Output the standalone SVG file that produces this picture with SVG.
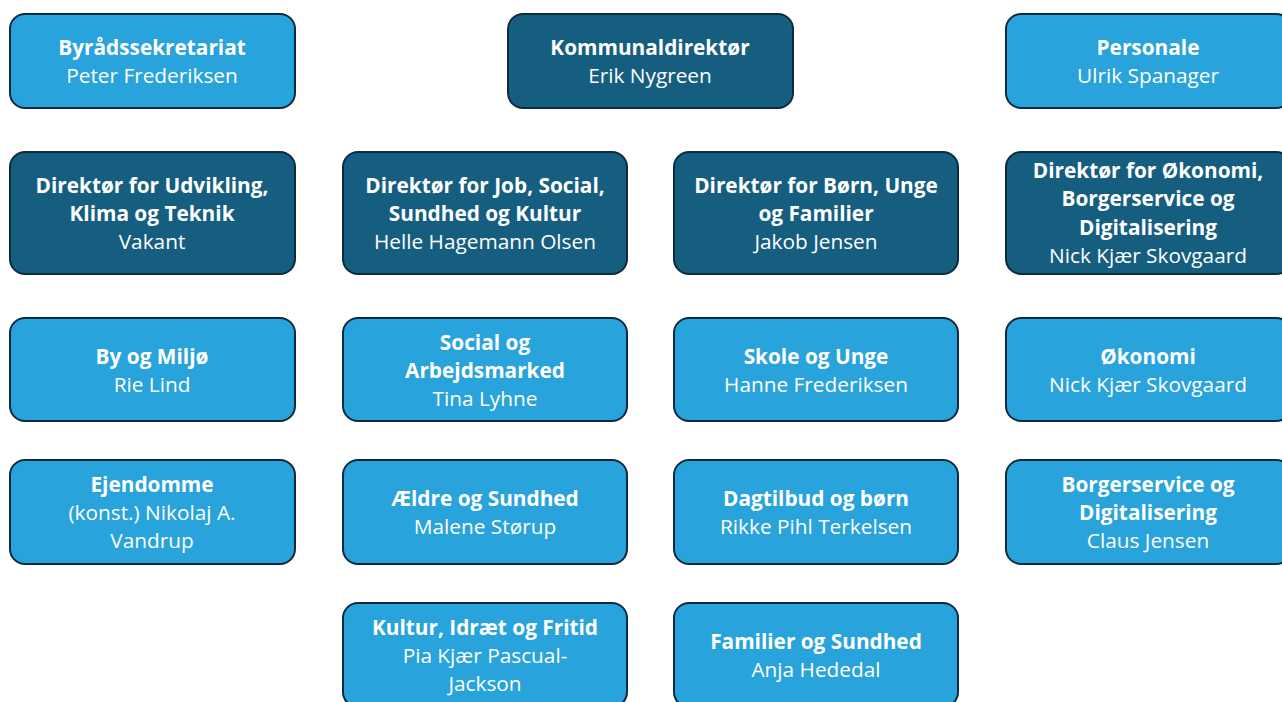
<svg xmlns="http://www.w3.org/2000/svg" width="1282" height="702" viewBox="0 0 1282 702">
<style>
.l{fill:#29a3dc;stroke:#0e2a3e;stroke-width:2}
.d{fill:#165e80;stroke:#0e2a3e;stroke-width:2}
text{font-family:"Open Sans","Liberation Sans",sans-serif;font-size:20.8px;fill:#fff;text-anchor:middle}
.b{font-weight:bold}
</style>
<rect width="1282" height="702" fill="#fff"/>
<g id="connectors"/>
<g id="n1"><rect class="l" x="10" y="14" width="285" height="94" rx="15"/><text x="152" y="55" class="b">Byrådssekretariat</text><text x="152" y="83">Peter Frederiksen</text></g>
<g id="n2"><rect class="d" x="508" y="14" width="285" height="94" rx="15"/><text x="650" y="55" class="b">Kommunaldirektør</text><text x="650" y="83">Erik Nygreen</text></g>
<g id="n3"><rect class="l" x="1006" y="14" width="285" height="94" rx="15"/><text x="1148" y="55" class="b">Personale</text><text x="1148" y="83">Ulrik Spanager</text></g>

<g id="n4"><rect class="d" x="10" y="152" width="285" height="122" rx="15"/><text x="152" y="193" class="b">Direktør for Udvikling,</text><text x="152" y="221" class="b">Klima og Teknik</text><text x="152" y="249">Vakant</text></g>
<g id="n5"><rect class="d" x="343" y="152" width="284" height="122" rx="15"/><text x="485" y="193" class="b">Direktør for Job, Social,</text><text x="485" y="221" class="b">Sundhed og Kultur</text><text x="485" y="249">Helle Hagemann Olsen</text></g>
<g id="n6"><rect class="d" x="674" y="152" width="284" height="122" rx="15"/><text x="816" y="193" class="b">Direktør for Børn, Unge</text><text x="816" y="221" class="b">og Familier</text><text x="816" y="249">Jakob Jensen</text></g>
<g id="n7"><rect class="d" x="1006" y="152" width="285" height="122" rx="15"/><text x="1148" y="178" class="b">Direktør for Økonomi,</text><text x="1148" y="206" class="b">Borgerservice og</text><text x="1148" y="235" class="b">Digitalisering</text><text x="1148" y="263">Nick Kjær Skovgaard</text></g>

<g id="n8"><rect class="l" x="10" y="318" width="285" height="103" rx="15"/><text x="152" y="364" class="b">By og Miljø</text><text x="152" y="392">Rie Lind</text></g>
<g id="n9"><rect class="l" x="343" y="318" width="284" height="103" rx="15"/><text x="485" y="350" class="b">Social og</text><text x="485" y="378" class="b">Arbejdsmarked</text><text x="485" y="406">Tina Lyhne</text></g>
<g id="n10"><rect class="l" x="674" y="318" width="284" height="103" rx="15"/><text x="816" y="364" class="b">Skole og Unge</text><text x="816" y="392">Hanne Frederiksen</text></g>
<g id="n11"><rect class="l" x="1006" y="318" width="285" height="103" rx="15"/><text x="1148" y="364" class="b">Økonomi</text><text x="1148" y="392">Nick Kjær Skovgaard</text></g>

<g id="n12"><rect class="l" x="10" y="460" width="285" height="104" rx="15"/><text x="152" y="492" class="b">Ejendomme</text><text x="152" y="520">(konst.) Nikolaj A.</text><text x="152" y="548">Vandrup</text></g>
<g id="n13"><rect class="l" x="343" y="460" width="284" height="104" rx="15"/><text x="485" y="506" class="b">Ældre og Sundhed</text><text x="485" y="534">Malene Størup</text></g>
<g id="n14"><rect class="l" x="674" y="460" width="284" height="104" rx="15"/><text x="816" y="506" class="b">Dagtilbud og børn</text><text x="816" y="534">Rikke Pihl Terkelsen</text></g>
<g id="n15"><rect class="l" x="1006" y="460" width="285" height="104" rx="15"/><text x="1148" y="492" class="b">Borgerservice og</text><text x="1148" y="520" class="b">Digitalisering</text><text x="1148" y="548">Claus Jensen</text></g>

<g id="n16"><rect class="l" x="343" y="603" width="284" height="104" rx="15"/><text x="485" y="635" class="b">Kultur, Idræt og Fritid</text><text x="485" y="663">Pia Kjær Pascual-</text><text x="485" y="691">Jackson</text></g>
<g id="n17"><rect class="l" x="674" y="603" width="284" height="104" rx="15"/><text x="816" y="649" class="b">Familier og Sundhed</text><text x="816" y="677">Anja Hededal</text></g>
</svg>
